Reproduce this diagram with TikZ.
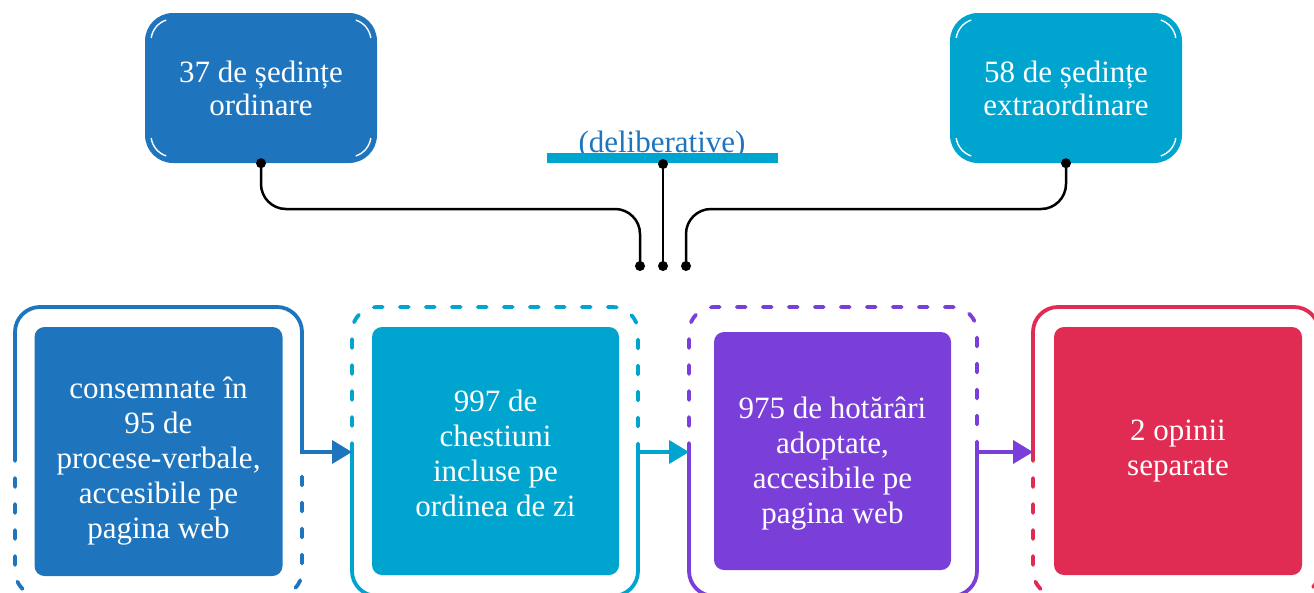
\documentclass[tikz,border=0pt]{standalone}
\usepackage{fontspec}
\setmainfont{Liberation Serif}
\usetikzlibrary{arrows.meta,calc}
\definecolor{cblue}{HTML}{1E75BD}
\definecolor{ccyan}{HTML}{00A5CF}
\definecolor{cpurp}{HTML}{7B3FD9}
\definecolor{cred}{HTML}{E02B52}
\begin{document}
\begin{tikzpicture}[x=1pt,y=-1pt,
  topbox/.style={rounded corners=28pt, minimum width=232pt, minimum height=150pt, inner sep=0pt, text=white, align=center, font=\fontsize{31}{33}\selectfont},
  inbox/.style={rounded corners=10pt, inner sep=0pt},
  txt/.style={text=white, align=center, font=\fontsize{31}{35}\selectfont},
  frm/.style={line width=3.8pt, rounded corners=25pt},
  dsh/.style={dash pattern=on 9pt off 17pt, line cap=round},
  flow/.style={line width=3.8pt, line cap=rect, -{Triangle[length=20pt,width=23pt]}},
  conn/.style={line width=2.5pt, rounded corners=25pt},
  dot/.style={circle, fill=black, inner sep=0pt, minimum size=10pt},
  hl/.style={white, line width=1.4pt}
]
\useasboundingbox (0,0) rectangle (1314,592);

% top boxes
\node[topbox, fill=cblue] (A) at (261,88) {37 de ședințe\\ordinare};
\node[topbox, fill=ccyan] (B) at (1066,88) {58 de ședințe\\extraordinare};
\foreach \cx/\cy in {173/41,978/41}{
  \draw[hl] (\cx,\cy) ++(188:22) arc[start angle=188, end angle=252, radius=22];
  \draw[hl] (\cx,\cy+94) ++(108:22) arc[start angle=108, end angle=172, radius=22];
  \draw[hl] (\cx+176,\cy) ++(288:22) arc[start angle=288, end angle=352, radius=22];
  \draw[hl] (\cx+176,\cy+94) ++(8:22) arc[start angle=8, end angle=72, radius=22];
}

% deliberative bar
\node[text=cblue, font=\fontsize{31}{35}\selectfont, anchor=base] (D) at (662,152) {(deliberative)};
\node[fill=ccyan, minimum width=231pt, minimum height=10pt, inner sep=0pt] (bar) at (662.5,158) {};

% connectors
\coordinate (dL) at (640,266);
\coordinate (dM) at (663,266);
\coordinate (dR) at (686,266);
\coordinate (jL) at (640,209);
\coordinate (jR) at (686,209);
\draw[conn] (A.south) |- (jL) -- (dL);
\draw[conn] (B.south) |- (jR) -- (dR);
\draw[conn] (bar.south -| dM) -- (dM);
\foreach \p in {A.south,B.south,dL,dM,dR}{\node[dot] at (\p) {};}
\node[dot] at (663,164) {};

% inner boxes
\node[inbox, fill=cblue, minimum width=248pt, minimum height=249pt] (I1) at (158.5,451.5) {};
\node[inbox, fill=ccyan, minimum width=247pt, minimum height=248pt] (I2) at (495.5,451) {};
\node[inbox, fill=cpurp, minimum width=237pt, minimum height=238pt] (I3) at (832.5,451) {};
\node[inbox, fill=cred, minimum width=248pt, minimum height=248pt] (I4) at (1178,451) {};

\node[txt] (T1) at ($(I1)+(0,10)$) {consemnate în\\95 de\\procese-verbale,\\accesibile pe\\pagina web};
\node[txt] (T2) at ($(I2)+(0,2)$) {997 de\\chestiuni\\incluse pe\\ordinea de zi};
\node[txt] (T3) at ($(I3)+(0,13)$) {975 de hotărâri\\adoptate,\\accesibile pe\\pagina web};
\node[txt] (T4) at ($(I4)+(0,0)$) {2 opinii\\separate};

% frames
\draw[frm, cblue] (15,452) |- (158,307) -| (302,452);
\draw[frm, dsh, cblue] (15,452) |- (158,596) -| (302,464);
\draw[frm, dsh, ccyan] (352,452) |- (495,307) -| (638,452);
\draw[frm, ccyan] (352,452) |- (495,596) -| (638,452);
\draw[frm, dsh, cpurp] (689,452) |- (833,307) -| (977,452);
\draw[frm, cpurp] (689,452) |- (833,596) -| (977,452);
\draw[frm, cred] (1033,452) |- (1176,307) -| (1319,452);
\draw[frm, dsh, cred] (1033,452) |- (1176,596) -| (1319,452);

% flow arrows
\coordinate (o1) at (302,452); \coordinate (i2) at (352,452);
\coordinate (o2) at (638,452); \coordinate (i3) at (689,452);
\coordinate (o3) at (977,452); \coordinate (i4) at (1033,452);
\draw[flow, cblue] (o1) -- (i2);
\draw[flow, ccyan] (o2) -- (i3);
\draw[flow, cpurp] (o3) -- (i4);
\end{tikzpicture}
\end{document}
